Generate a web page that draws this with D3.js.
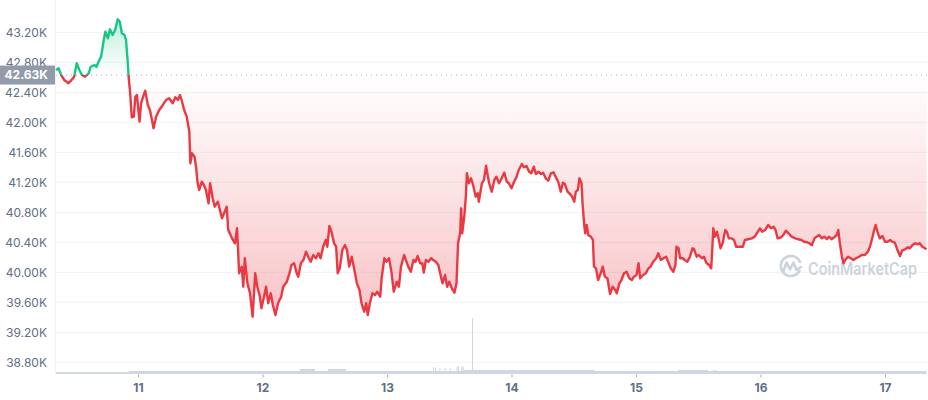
<!DOCTYPE html>
<html><head><meta charset="utf-8">
<script src="https://cdn.jsdelivr.net/npm/d3@7"></script>
<style>
body{margin:0;background:#fff;}
svg{display:block;font-family:Inter,"Noto Sans",sans-serif;}
</style>
</head><body>
<svg id="chart" width="928" height="400"></svg>
<script>
// ---- DATA (hours since 10 Jan 00:00 UTC, price in USD) ----
const hours = [
8.2,8.7,9.2,9.8,10.6,11.3,11.7,12.2,12.7,13.2,13.8,14.5,14.9,15.6,16.0,16.4,16.9,17.3,17.7,18.2,18.6,19.1,19.6,20.1,20.5,20.9,21.4,21.7,22.0,22.2,22.5,22.8,23.2,23.5,23.8,24.3,24.6,25.0,25.4,25.9,26.3,26.7,27.0,27.5,28.1,28.8,29.4,30.0,30.7,31.2,31.7,32.1,32.5,32.9,33.4,33.9,34.1,34.4,34.9,35.2,35.5,35.8,36.3,36.7,37.1,37.6,37.9,38.4,38.8,39.4,39.8,40.2,40.6,41.1,41.4,
42.3,42.7,43.1,43.5,44.0,44.3,44.6,45.1,45.6,46.1,46.6,47.0,47.5,47.8,48.3,48.7,49.1,49.6,50.0,50.5,51.0,51.6,52.0,52.7,53.2,53.6,54.1,54.6,54.9,55.4,55.9,56.4,56.8,57.3,57.8,58.3,58.8,59.2,59.7,60.2,60.5,60.9,61.3,61.8,62.2,62.5,62.9,63.4,63.9,64.3,64.7,65.2,65.6,66.2,66.7,67.1,67.6,68.0,68.3,68.7,69.2,69.7,70.1,70.7,71.0,71.5,71.9,72.4,72.9,73.3,73.9,74.3,74.7,75.3,
76.1,76.6,77.1,77.5,77.9,78.4,78.8,79.1,79.5,80.0,80.5,80.9,81.4,81.9,82.4,82.7,83.2,83.6,84.0,84.5,85.0,85.4,85.7,86.1,86.3,86.5,86.9,87.2,87.4,87.8,88.2,88.6,89.1,89.5,89.7,90.3,90.7,91.1,91.4,91.7,92.2,92.7,93.1,93.6,94.1,94.6,95.1,95.5,96.0,96.5,97.0,97.4,98.0,98.4,98.9,99.4,99.8,100.3,100.7,101.2,101.7,102.1,102.6,103.1,103.6,104.1,104.5,105.0,105.5,105.9,106.3,106.8,107.3,107.7,108.1,108.4,108.8,109.1,
109.5,109.7,110.0,110.2,110.5,110.8,111.3,111.7,111.9,112.3,112.7,113.2,113.6,114.0,114.5,115.0,115.5,116.0,116.3,116.8,117.2,117.7,118.2,118.7,119.2,119.6,120.1,120.5,120.8,121.4,121.9,122.4,122.8,123.3,123.9,124.3,124.8,125.3,125.8,126.2,126.7,127.2,127.6,127.8,128.2,128.5,129.0,129.4,129.9,130.4,130.9,131.2,131.7,132.1,132.7,133.1,133.6,134.1,134.5,134.7,134.9,135.2,135.6,135.9,136.3,136.7,137.2,137.5,137.9,138.4,138.9,139.3,139.9,140.6,141.0,141.6,142.3,
142.9,143.5,143.9,144.3,144.9,145.5,146.0,146.5,146.9,147.3,148.0,148.4,148.9,149.4,150.0,150.7,151.3,151.9,152.4,153.0,153.4,153.9,154.4,154.8,155.3,155.8,156.3,156.8,157.2,157.7,158.2,158.7,159.0,159.3,159.7,160.0,160.4,160.9,161.4,161.9,162.4,163.0,163.5,164.1,164.7,165.1,165.6,165.9,166.2,166.6,167.0,167.5,168.0,168.5,169.0,169.4,169.9,170.4,170.9,171.3,171.9,172.4,172.8,173.3,173.8,174.3,174.7,175.2,175.7,176.0
];
const prices = [
42697,42720,42630,42564,42520,42573,42608,42787,42697,42630,42608,42653,42741,42764,42741,42808,42875,43053,43208,43120,43240,43164,43231,43373,43341,43187,43164,43097,42831,42608,42387,42067,42075,42341,42364,42008,42253,42341,42421,42231,42164,42031,41920,42075,42164,42231,42297,42320,42253,42333,42297,42364,42275,42164,42075,41875,41453,41587,41541,41408,41187,41097,41208,41164,41097,40920,41187,40987,40875,40941,40831,40720,40787,40875,40564,
40431,40387,40587,39987,40075,39808,40187,39853,39720,39408,39987,39808,39675,39520,39675,39808,39587,39720,39564,39431,39587,39675,39808,39875,39987,40097,40120,39987,39941,40120,40164,40275,40208,40141,40231,40187,40253,40187,40341,40431,40341,40617,40541,40387,40341,39987,40053,40297,40364,40297,40075,40208,40075,39853,39764,39587,39475,39587,39431,39587,39720,39697,39741,39675,39941,40187,40141,40187,39987,39741,39875,39808,40075,40231,
40075,40008,40164,40141,40217,40120,40120,39995,40164,40141,40187,40164,40141,40097,39941,39853,39964,39808,39875,39787,39728,39853,40387,40520,40853,40520,40741,41008,41320,41187,41253,41164,41008,41053,40941,41187,41231,41421,41297,41187,41075,41231,41275,41187,41253,41328,41208,41187,41120,41208,41275,41364,41444,41400,41417,41341,41320,41408,41311,41341,41311,41328,41253,41221,41320,41333,41275,41208,41075,41195,41177,41075,41044,41008,40941,41075,41097,41253,
41187,40920,40653,40520,40631,40497,40475,40431,40075,40053,39897,39987,40075,39941,39920,39711,39808,39764,39720,39853,39897,39987,40008,39920,39897,39941,39964,40120,39920,39964,39987,40053,40075,40141,40187,40253,40164,40187,40208,40141,40053,40008,40097,40341,40320,40187,40187,40164,40141,40208,40320,40307,40208,40231,40187,40208,40120,40097,40053,40297,40587,40475,40541,40453,40320,40387,40564,40541,40453,40453,40431,40341,40341,40341,40431,40441,40453,
40475,40541,40587,40541,40564,40631,40587,40608,40564,40453,40467,40497,40555,40520,40475,40453,40441,40431,40408,40400,40387,40360,40453,40475,40497,40453,40475,40441,40475,40441,40467,40497,40564,40387,40208,40120,40173,40208,40187,40164,40187,40208,40231,40231,40275,40341,40475,40564,40631,40528,40453,40484,40408,40408,40431,40408,40395,40297,40217,40288,40307,40333,40320,40364,40387,40373,40387,40341,40320,40307
];
const baselinePrice = 42630;
const baselineLabel = "42.63K";
const yTickValues = [38800,39200,39600,40000,40400,40800,41200,41600,42000,42400,42800,43200];
const yTickLabels = ["38.80K","39.20K","39.60K","40.00K","40.40K","40.80K","41.20K","41.60K","42.00K","42.40K","42.80K","43.20K"];
const dayTickHours = [24,48,72,96,120,144,168];
const dayTickLabels = ["11","12","13","14","15","16","17"];
// volume (billions USD, step series)
const volHours  = [8.2,22.3,55.2,58.1,60.6,64.1,80.9,81.1,81.3,81.5,82.1,82.3,83.1,83.3,84.1,84.3,85.4,85.6,85.7,85.9,86.3,86.5,86.6,86.8,88.4,88.6,112.1,128.1,133.9,134.8,135.6,176.0];
const volValues = [0.6,0.95,1.6,0.95,1.6,0.95,2.1,0.95,2.0,0.95,1.8,0.95,1.9,0.95,1.8,0.95,2.3,0.95,2.4,0.95,2.3,0.95,2.4,1.25,17.5,1.25,0.95,1.25,0.95,1.2,0.95,0.95];

// ---- CHART ----
const t0 = Date.UTC(2022,0,10);
const toDate = h => new Date(t0 + h*3600e3);
const data = hours.map((h,i)=>({t:toDate(h), v:prices[i]}));
const vol = volHours.map((h,i)=>({t:toDate(h), v:volValues[i]}));

const svg = d3.select("#chart");
const left = 56, right = 926.5;
const x = d3.scaleUtc().domain(d3.extent(data,d=>d.t)).range([left,right]);
const y = d3.scaleLinear().domain([38800,43200]).range([362.3,32.3]);
const yv = d3.scaleLinear().domain([0,18]).range([374,316.4]);
const yb = y(baselinePrice);

const red = "#ea3943", green = "#16c784";
const defs = svg.append("defs");
const gR = defs.append("linearGradient").attr("id","gRed").attr("gradientUnits","userSpaceOnUse")
  .attr("x1",0).attr("x2",0).attr("y1",yb).attr("y2",y(39400));
gR.append("stop").attr("offset",0).attr("stop-color",red).attr("stop-opacity",0.0);
gR.append("stop").attr("offset",1).attr("stop-color",red).attr("stop-opacity",0.3);
const gG = defs.append("linearGradient").attr("id","gGreen").attr("gradientUnits","userSpaceOnUse")
  .attr("x1",0).attr("x2",0).attr("y1",y(43400)).attr("y2",yb);
gG.append("stop").attr("offset",0).attr("stop-color",green).attr("stop-opacity",0.28);
gG.append("stop").attr("offset",1).attr("stop-color",green).attr("stop-opacity",0.0);
defs.append("clipPath").attr("id","above").append("rect").attr("x",0).attr("y",0).attr("width",928).attr("height",yb);
defs.append("clipPath").attr("id","below").append("rect").attr("x",0).attr("y",yb).attr("width",928).attr("height",400-yb);

// grid
svg.append("g").selectAll("line").data(yTickValues).join("line")
  .attr("x1",left).attr("x2",928).attr("y1",d=>y(d)).attr("y2",d=>y(d))
  .attr("stroke","#eff2f5").attr("stroke-width",1);
svg.append("line").attr("x1",55.5).attr("x2",55.5).attr("y1",0).attr("y2",374)
  .attr("stroke","#eff2f5");

// y labels
svg.append("g").selectAll("text").data(yTickValues).join("text")
  .attr("x",47).attr("y",d=>y(d)).attr("dy","0.35em").attr("text-anchor","end")
  .attr("font-size",12).attr("fill","#616e85").text((d,i)=>yTickLabels[i]);

// watermark
const wm = svg.append("g");
wm.append("path").attr("d","M799.5,271 A10,10 0 1 1 800,262")
  .attr("fill","none").attr("stroke","#cdd3dc").attr("stroke-width",2.6).attr("stroke-linecap","round");
wm.append("path").attr("d","M783.5,271 L786.5,262.5 L790,269.5 L793.5,262.5 L796.5,270 L801,267")
  .attr("fill","none").attr("stroke","#cdd3dc").attr("stroke-width",2.6).attr("stroke-linejoin","round").attr("stroke-linecap","round");
wm.append("text").attr("x",808).attr("y",274.5).attr("font-size",17.5).attr("font-weight",600)
  .attr("fill","#cdd3dc").attr("textLength",109).attr("lengthAdjust","spacingAndGlyphs").text("CoinMarketCap");

// volume
svg.append("path").datum(vol)
  .attr("d",d3.area().curve(d3.curveStepAfter).x(d=>x(d.t)).y0(yv(0)).y1(d=>yv(d.v)))
  .attr("fill","#cfd6e4");

// areas
const area = d3.area().x(d=>x(d.t)).y0(yb).y1(d=>y(d.v));
svg.append("path").datum(data).attr("d",area).attr("fill","url(#gGreen)").attr("clip-path","url(#above)");
svg.append("path").datum(data).attr("d",area).attr("fill","url(#gRed)").attr("clip-path","url(#below)");

// baseline dotted
svg.append("line").attr("x1",left).attr("x2",928).attr("y1",yb).attr("y2",yb)
  .attr("stroke","#a6adbb").attr("stroke-width",1).attr("stroke-dasharray","1,4");

// lines
const line = d3.line().x(d=>x(d.t)).y(d=>y(d.v));
svg.append("path").datum(data).attr("d",line).attr("fill","none").attr("stroke",green)
  .attr("stroke-width",2.4).attr("stroke-linejoin","round").attr("clip-path","url(#above)");
svg.append("path").datum(data).attr("d",line).attr("fill","none").attr("stroke",red)
  .attr("stroke-width",2.4).attr("stroke-linejoin","round").attr("clip-path","url(#below)");

// baseline label
svg.append("rect").attr("x",0).attr("y",yb-9.5).attr("width",55).attr("height",19).attr("fill","#939bab");
svg.append("text").attr("x",48).attr("y",yb).attr("dy","0.35em").attr("text-anchor","end")
  .attr("font-size",12).attr("font-weight",700).attr("fill","#fff").text(baselineLabel);

// x axis
const xAxis = d3.axisBottom(x).tickValues(dayTickHours.map(toDate))
  .tickFormat((d,i)=>dayTickLabels[i]).tickSize(3).tickPadding(6);
const gx = svg.append("g").attr("transform","translate(0,374.5)").call(xAxis);
gx.select(".domain").remove();
gx.selectAll(".tick line").attr("stroke","#a6adbb");
gx.selectAll(".tick text").attr("font-size",12).attr("font-weight",700).attr("fill","#616e85")
  .attr("font-family","Inter, 'Noto Sans', sans-serif");
if (hours.length !== prices.length) console.error("length mismatch", hours.length, prices.length);
</script>
</body></html>
